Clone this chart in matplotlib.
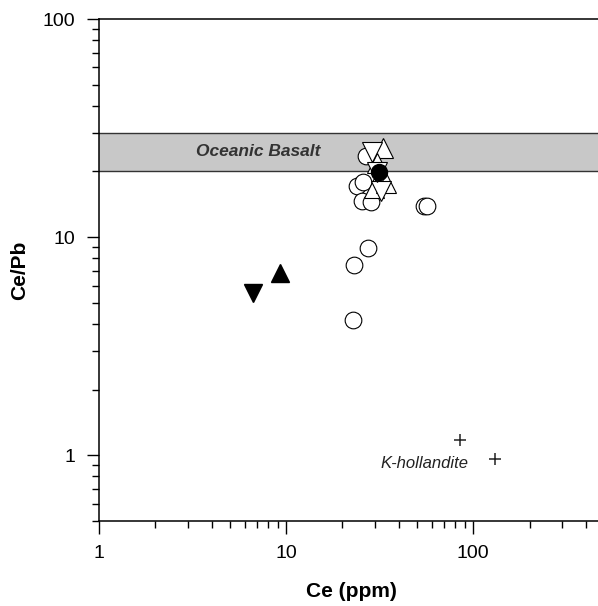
import numpy as np
import matplotlib
matplotlib.use("Agg")
import matplotlib.pyplot as plt
from matplotlib.ticker import FixedLocator, LogLocator, FixedFormatter, NullFormatter

plt.rcParams['font.family'] = ['Liberation Sans', 'DejaVu Sans']

# open circles
circ_ce = [26.8, 24.0, 25.8, 25.5, 28.5, 54.7, 56.7, 27.4, 23.1, 22.8]
circ_cepb = [23.5, 17.1, 17.9, 14.6, 14.5, 13.9, 13.9, 8.9, 7.45, 4.16]
# open triangles (up / down)
up_ce = [33.0, 30.7, 29.5, 34.3]
up_cepb = [25.6, 21.9, 16.8, 17.7]
dn_ce = [28.8, 32.3, 30.5]
dn_cepb = [24.5, 16.3, 19.9]
# filled symbols
fcirc_ce = [31.4]
fcirc_cepb = [19.9]
fup_ce = [9.29]
fup_cepb = [6.84]
fdn_ce = [6.66]
fdn_cepb = [5.53]
# K-hollandite
kh_ce = [85.2, 131.0]
kh_cepb = [1.17, 0.96]
# oceanic basalt range
band = [20, 30]

fig = plt.figure(figsize=(5.98, 6.06), dpi=100)
ax = fig.add_axes([99 / 598, 1 - 521 / 606, 505 / 598, 502 / 606])
ax.set_xscale('log')
ax.set_yscale('log')
ax.set_xlim(1, 500)
ax.set_ylim(0.5, 100)

ax.axhspan(band[0], band[1], facecolor='#c8c8c8', edgecolor='none', zorder=1)
ax.axhline(band[0], color='#333333', lw=1.0, zorder=1.5)
ax.axhline(band[1], color='#333333', lw=1.0, zorder=1.5)
ax.text(3.3, 24.8, 'Oceanic Basalt', fontsize=12.5, fontweight='bold', style='italic',
        color='#333333', va='center', ha='left', zorder=2)

ax.plot(circ_ce, circ_cepb, 'o', ms=12, mfc='white', mec='black', mew=0.8, zorder=3)
ax.plot(up_ce, up_cepb, '^', ms=14, mfc='white', mec='black', mew=0.8, zorder=4)
ax.plot(dn_ce, dn_cepb, 'v', ms=14, mfc='white', mec='black', mew=0.8, zorder=4)
ax.plot(fcirc_ce, fcirc_cepb, 'o', ms=11.5, mfc='black', mec='black', zorder=5)
ax.plot(fup_ce, fup_cepb, '^', ms=12.5, mfc='black', mec='black', zorder=5)
ax.plot(fdn_ce, fdn_cepb, 'v', ms=12.5, mfc='black', mec='black', zorder=5)
ax.plot(kh_ce, kh_cepb, '+', ms=9, color='#222222', mew=1.1, zorder=5)
ax.text(31.8, 0.92, 'K-hollandite', fontsize=12, style='italic', color='#222222',
        va='center', ha='left')

ax.xaxis.set_major_locator(FixedLocator([1, 10, 100]))
ax.xaxis.set_major_formatter(FixedFormatter(['1', '10', '100']))
ax.xaxis.set_minor_locator(LogLocator(base=10, subs=np.arange(2, 10), numticks=20))
ax.xaxis.set_minor_formatter(NullFormatter())
ax.yaxis.set_major_locator(FixedLocator([1, 10, 100]))
ax.yaxis.set_major_formatter(FixedFormatter(['1', '10', '100']))
ax.yaxis.set_minor_locator(LogLocator(base=10, subs=np.arange(2, 10), numticks=20))
ax.yaxis.set_minor_formatter(NullFormatter())

ax.tick_params(which='major', direction='out', length=9, width=1.0, labelsize=14, pad=8)
ax.tick_params(which='minor', direction='out', length=5, width=1.0)
for s in ['left', 'bottom', 'top']:
    ax.spines[s].set_linewidth(1.1)
ax.spines['right'].set_visible(False)

ax.set_xlabel('Ce (ppm)', fontsize=15, fontweight='bold', labelpad=15)
ax.set_ylabel('Ce/Pb', fontsize=15, fontweight='bold', labelpad=10)

fig.savefig('out.png', dpi=100)
